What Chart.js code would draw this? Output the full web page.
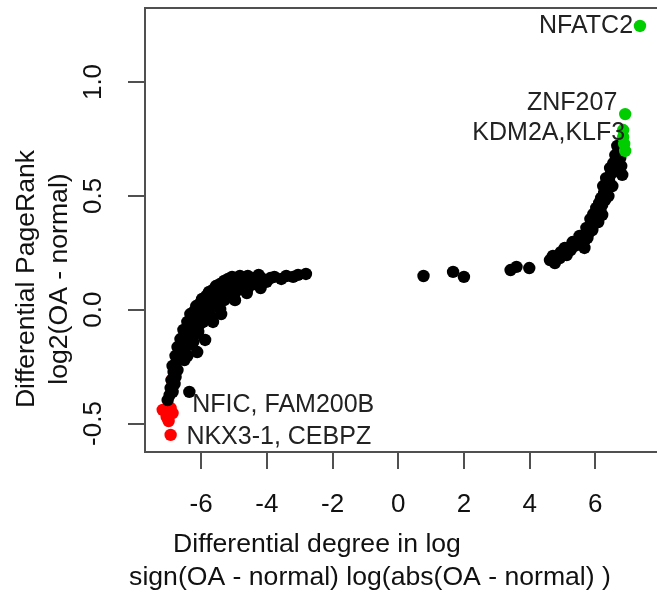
<!DOCTYPE html>
<html>
<head>
<meta charset="utf-8">
<script src="https://cdn.jsdelivr.net/npm/chart.js@4/dist/chart.umd.min.js"></script>
<style>
  html, body { margin: 0; padding: 0; background: #fff; }
</style>
</head>
<body>
<canvas id="container" width="657" height="592"></canvas>
<script>
// black points, left arm
var leftX = [-7.02,-6.96,-6.87,-6.93,-6.81,-6.90,-6.78,-6.84,-6.72,-6.87,-6.75,-6.66,-6.78,-6.63,-6.54,-6.72,
  -6.57,-6.45,-6.63,-6.48,-6.36,-6.54,-6.39,-6.27,-6.42,-6.30,-6.18,-6.33,-6.21,-6.09,-5.97,-6.15,-6.03,-5.91,
  -5.79,-5.97,-5.85,-5.73,-5.61,-5.76,-5.64,-5.52,-5.39,-5.55,-5.42,-5.27,-5.15,-5.30,-5.18,-5.03,-4.91,-5.06,
  -4.82,-4.70,-4.58,-4.46,-4.37,-4.25,-4.13,-4.01,-3.89,-3.77,-3.56,-3.41,-3.20,-3.05,-2.81,-6.36,-6.12,-5.88,
  -5.64,-5.39,-4.97,-4.61,-4.19,
  -6.51,-6.42,-6.36,-6.24,-6.21,-6.09,-6.06,-5.94,-6.15,-5.91,-5.76,-5.67,-5.70,-5.55,-5.42,-5.45,-5.30,-5.21,
  -5.09,-4.97,-4.82,-4.73,-4.55,-4.37,-4.19];
var leftY = [-0.397,-0.375,-0.361,-0.344,-0.326,-0.309,-0.296,-0.274,-0.265,-0.247,-0.230,-0.217,-0.203,-0.186,
  -0.173,-0.164,-0.151,-0.137,-0.129,-0.111,-0.098,-0.089,-0.076,-0.067,-0.054,-0.041,-0.032,-0.019,-0.006,0.003,
  -0.010,0.016,0.029,0.021,0.034,0.047,0.060,0.051,0.065,0.078,0.087,0.078,0.091,0.104,0.113,0.104,0.113,0.126,
  0.135,0.126,0.135,0.144,0.148,0.139,0.148,0.126,0.139,0.153,0.135,0.122,0.139,0.144,0.135,0.148,0.144,0.153,
  0.157,-0.361,-0.186,-0.133,-0.054,-0.019,0.042,0.073,0.095,
  -0.221,-0.203,-0.155,-0.142,-0.111,-0.098,-0.067,-0.054,-0.080,-0.023,-0.015,-0.036,0.016,0.025,0.003,0.051,
  0.042,0.060,0.082,0.073,0.091,0.104,0.100,0.113,0.109];

// black points, right arm
var rightX = [0.77,1.67,2.00,3.42,3.60,3.99,4.62,4.77,4.71,4.92,5.01,5.13,5.07,5.25,5.37,5.31,5.49,5.55,5.67,
  5.61,5.76,5.82,5.73,5.88,5.85,5.97,5.94,6.06,6.03,6.15,6.12,6.21,6.18,6.30,6.27,6.36,6.24,6.42,6.33,6.48,
  6.45,6.58,6.55,6.64,6.61,6.70,6.76,6.67,6.79,6.82,
  5.52,5.91,6.09,5.67,6.21,6.40,6.52,4.95,5.28];
var rightY = [0.148,0.166,0.144,0.174,0.188,0.183,0.218,0.205,0.236,0.227,0.253,0.240,0.271,0.262,0.280,0.297,
  0.289,0.311,0.302,0.324,0.315,0.341,0.359,0.372,0.398,0.385,0.420,0.411,0.447,0.434,0.469,0.460,0.491,0.482,
  0.513,0.535,0.543,0.565,0.578,0.596,0.622,0.609,0.644,0.657,0.679,0.693,0.666,0.719,0.631,0.592,
  0.324,0.350,0.385,0.271,0.416,0.499,0.543,0.253,0.284];

var redX = [-6.90,-7.17,-6.93,-7.05,-6.87,-6.99,-6.93];
var redY = [-0.309,-0.440,-0.432,-0.471,-0.454,-0.489,-0.550];

var greenX = [7.36,6.91,6.85,6.85,6.88,6.91];
var greenY = [1.246,0.859,0.789,0.758,0.728,0.697];

var geneNames = ['NFATC2','ZNF207','KDM2A,KLF3','NFIC, FAM200B','NKX3-1, CEBPZ'];
var geneX = [7.15,6.67,6.91,-6.27,-6.45];
var geneY = [1.246,0.908,0.776,-0.419,-0.559];
var geneAlign = ['right','right','right','left','left'];

var xTicks = [-6,-4,-2,0,2,4,6];
var yTicks = [-0.5,0,0.5,1];
var yTickLabels = ['-0.5','0.0','0.5','1.0'];

var xTitle = ['Differential degree in log','sign(OA - normal) log(abs(OA - normal) )'];
var yTitle = ['Differential PageRank','log2(OA - normal)'];

function pts(xs, ys) {
  return xs.map(function (v, i) { return {x: v, y: ys[i]}; });
}

var FONT = "'Liberation Sans', Arial, sans-serif";
var boxColor = '#505050';

var extras = {
  id: 'extras',
  afterDraw: function (chart) {
    var ctx = chart.ctx, a = chart.chartArea;
    var sx = chart.scales.x, sy = chart.scales.y;
    ctx.save();
    // plot box (right side falls outside the picture)
    ctx.strokeStyle = boxColor;
    ctx.lineWidth = 2;
    ctx.beginPath();
    ctx.moveTo(chart.width + 5, a.top);
    ctx.lineTo(a.left, a.top);
    ctx.lineTo(a.left, a.bottom);
    ctx.lineTo(chart.width + 5, a.bottom);
    ctx.stroke();

    // gene labels
    ctx.fillStyle = '#222';
    ctx.font = '25px ' + FONT;
    ctx.textBaseline = 'middle';
    geneNames.forEach(function (g, i) {
      ctx.textAlign = geneAlign[i];
      ctx.fillText(g, sx.getPixelForValue(geneX[i]), sy.getPixelForValue(geneY[i]));
    });

    // axis titles
    ctx.fillStyle = '#111';
    ctx.font = '26.6px ' + FONT;
    ctx.textBaseline = 'alphabetic';
    ctx.textAlign = 'center';
    ctx.fillText(xTitle[0], 317, 552);
    ctx.fillText(xTitle[1], 370, 585);

    ctx.translate(0, 279);
    ctx.rotate(-Math.PI / 2);
    ctx.fillText(yTitle[0], 0, 34);
    ctx.fillText(yTitle[1], 0, 67);
    ctx.restore();
  }
};

new Chart('container', {
  type: 'scatter',
  data: {
    datasets: [
      {data: pts(greenX, greenY), backgroundColor: '#00CD00'},
      {data: pts(leftX, leftY).concat(pts(rightX, rightY)), backgroundColor: '#000'},
      {data: pts(redX, redY), backgroundColor: '#FF0000'}
    ]
  },
  options: {
    responsive: false,
    animation: false,
    devicePixelRatio: 1,
    layout: {padding: {top: 8, left: 0, right: 0, bottom: 0}},
    elements: {point: {radius: 6.2, borderWidth: 0, hoverRadius: 6.2}},
    plugins: {legend: {display: false}, tooltip: {enabled: false}},
    scales: {
      x: {
        type: 'linear',
        min: -7.71,
        max: 7.69,
        afterBuildTicks: function (s) { s.ticks = xTicks.map(function (v) { return {value: v}; }); },
        afterFit: function (s) { s.height = 140; s.paddingLeft = 0; s.paddingRight = 0; },
        border: {display: false},
        grid: {drawOnChartArea: false, tickLength: 17, color: boxColor, lineWidth: 2},
        ticks: {font: {family: FONT, size: 26}, color: '#111', padding: 20, maxRotation: 0,
          callback: function (v) { return String(v); }}
      },
      y: {
        type: 'linear',
        min: -0.625,
        max: 1.325,
        afterBuildTicks: function (s) { s.ticks = yTicks.map(function (v) { return {value: v}; }); },
        afterFit: function (s) { s.width = 145; s.paddingTop = 0; s.paddingBottom = 0; },
        border: {display: false},
        grid: {drawOnChartArea: false, tickLength: 17, color: boxColor, lineWidth: 2},
        ticks: {font: {family: FONT, size: 26}, color: '#111', padding: 12, minRotation: 90, maxRotation: 90,
          crossAlign: 'center',
          callback: function (v, i) { return yTickLabels[i]; }}
      }
    }
  },
  plugins: [extras]
});
</script>
</body>
</html>
